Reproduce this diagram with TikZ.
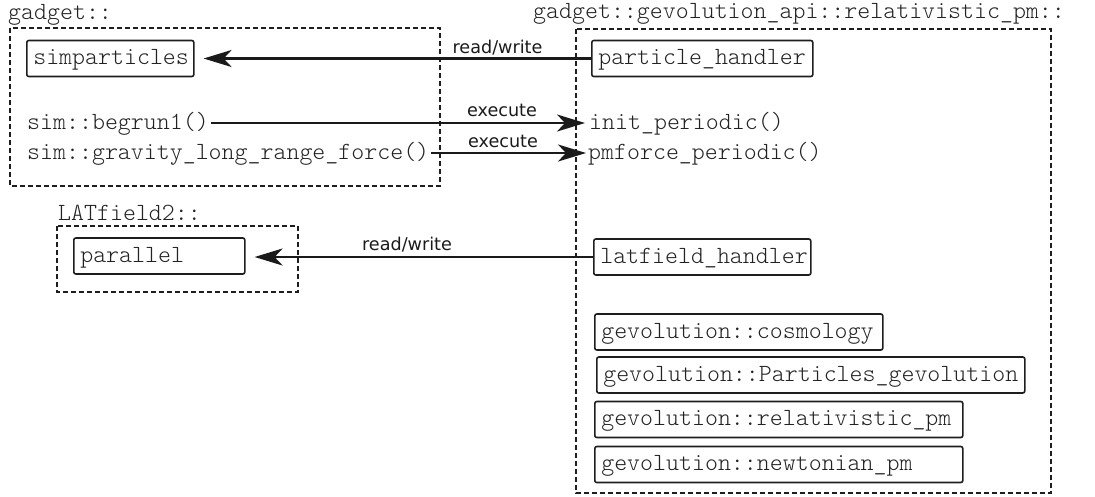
\documentclass[tikz,border=0pt]{standalone}
\usepackage{fontspec}
\usetikzlibrary{arrows.meta}
\newfontfamily\codefont{Latin Modern Mono Light}
\newfontfamily\labelfont{DejaVu Sans}
\definecolor{ink}{HTML}{1A1A1A}
\definecolor{codeink}{HTML}{222222}
\definecolor{edge}{HTML}{1E1E1E}
\begin{document}
\begin{tikzpicture}[x=1pt,y=-1pt,
  code/.style={font=\codefont\fontsize{24.7}{28}\selectfont, text=codeink,
    text height=17pt, text depth=5pt, inner xsep=2pt, inner ysep=0pt, anchor=west},
  cls/.style={code, draw=edge, line width=1.6pt, rounded corners=2pt,
    inner xsep=6.5pt, minimum height=36pt, align=left},
  ns/.style={draw=edge, line width=1.4pt, dash pattern=on 5pt off 3pt},
  link/.style={draw=ink, line width=2.5pt, -{Stealth[length=28pt,width=17pt,inset=8pt]}},
  lbl/.style={font=\labelfont\fontsize{17.6}{20}\selectfont, text=ink, inner sep=0pt, anchor=base}]
\useasboundingbox (0,0) rectangle (1095,496);

% namespace frames
\draw[ns] (10,28) rectangle (440,186);
\draw[ns] (57,226) rectangle (298,292);
\draw[ns] (576,29) rectangle (1051,493);

% namespace titles
\node[code] (gadget) at (6,13) {gadget::};
\node[code] (api) at (531,12) {gadget::gevolution\_api::relativistic\_pm::};
\node[code] (latns) at (56,214) {LATfield2::};

% classes
\node[cls, text width=154pt] (sp) at (26,58.5) {simparticles};
\node[cls, text width=208pt] (ph) at (591,58.5) {particle\_handler};
\node[cls, text width=158pt] (par) at (73,256) {parallel};
\node[cls, text width=204pt] (lh) at (593,257) {latfield\_handler};
\node[cls, text width=275pt] (cos) at (594,332) {gevolution::cosmology};
\node[cls, text width=415pt] (pg) at (596,375) {gevolution::Particles\_gevolution};
\node[cls, text width=355pt] (rp) at (594,419.5) {gevolution::relativistic\_pm};
\node[cls, text width=355pt] (np) at (594,464.5) {gevolution::newtonian\_pm};

% functions
\node[code] (br) at (25,123) {sim::begrun1()};
\node[code] (gr) at (25,153) {sim::gravity\_long\_range\_force()};
\node[code] (ip) at (587,123) {init\_periodic()};
\node[code] (pm) at (586,153) {pmforce\_periodic()};

% connections
\draw[link, shorten >=9pt] (ph.west) -- (sp.east);
\draw[link, shorten >=2pt] (br.east) -- (ip.west);
\draw[link] (gr.east) -- (pm.west);
\draw[link, shorten >=9pt] (lh.west) -- (lh.west -| par.east);

% connection labels
\node[lbl] (rw1) at (497.5,53) {read/write};
\node[lbl] (ex1) at (502,116) {execute};
\node[lbl] (ex2) at (503,147) {execute};
\node[lbl] (rw2) at (407,250) {read/write};
\end{tikzpicture}
\end{document}
